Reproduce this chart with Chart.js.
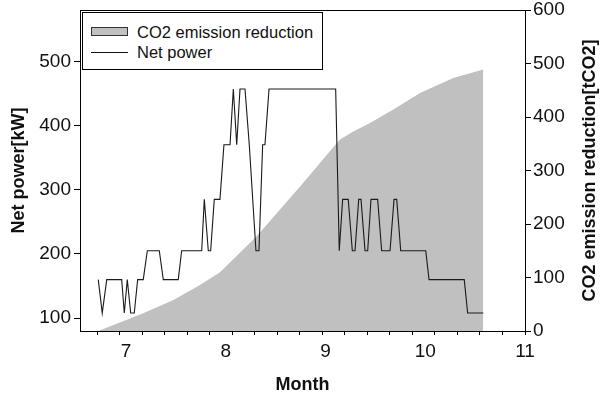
<!DOCTYPE html>
<html>
<head>
<meta charset="utf-8">
<script src="https://cdn.jsdelivr.net/npm/chart.js@4/dist/chart.umd.min.js"></script>
<style>
  body { margin: 0; background: #fff; }
  #wrap { position: relative; width: 608px; height: 396px; }
  #legend {
    position: absolute; left: 82px; top: 12px; width: 239px; height: 56px;
    border: 1px solid #000; background: #fff;
    font-family: 'Liberation Sans', Arial, sans-serif; font-size: 16.5px; color: #111;
  }
  .row { position: absolute; left: 0; height: 20px; line-height: 20px; }
  .row span { position: absolute; left: 54px; white-space: nowrap; }
  .sw-area { position: absolute; left: 8px; top: 5px; width: 35px; height: 7px; background: #c0c0c0; border: 1px solid #333; }
  .sw-line { position: absolute; left: 8px; top: 10px; width: 37px; height: 0; border-top: 1px solid #111; }
</style>
</head>
<body>
<div id="wrap">
  <canvas id="chart" width="608" height="396"></canvas>
  <div id="legend">
    <div class="row" style="top:9px"><div class="sw-area"></div><span id="lgArea"></span></div>
    <div class="row" style="top:29px"><div class="sw-line"></div><span id="lgLine"></span></div>
  </div>
</div>
<script>
// axis ticks
const monthTicks = [7, 8, 9, 10, 11];
const powerTicks = [100, 200, 300, 400, 500];
const co2Ticks = [0, 100, 200, 300, 400, 500, 600];

// net power [kW] vs month
const powerMonths = [6.722, 6.762, 6.807, 6.957, 6.983, 7.013, 7.047, 7.083, 7.117, 7.173,
  7.214, 7.334, 7.374, 7.524, 7.558, 7.759, 7.785, 7.825, 7.849, 7.885,
  7.942, 7.982, 8.043, 8.076, 8.110, 8.143, 8.193, 8.236, 8.303, 8.333,
  8.370, 8.393, 8.434, 9.102, 9.138, 9.172, 9.228, 9.269, 9.296, 9.333,
  9.356, 9.396, 9.423, 9.456, 9.523, 9.563, 9.647, 9.687, 9.714, 9.754,
  10.005, 10.038, 10.391, 10.425, 10.582];
const powerKW = [160, 108, 160, 160, 108, 160, 108, 108, 160, 160,
  205, 205, 160, 160, 205, 205, 285, 205, 205, 285,
  285, 370, 370, 457, 370, 457, 457, 370, 205, 205,
  370, 370, 457, 457, 205, 285, 285, 205, 205, 285,
  285, 205, 205, 285, 285, 205, 205, 285, 285, 205,
  205, 160, 160, 108, 108];

// cumulative CO2 emission reduction [tCO2] vs month
const co2Months = [6.722, 7.173, 7.475, 7.742, 7.942, 8.076, 8.310, 8.544, 8.745, 8.945,
  9.112, 9.146, 9.279, 9.446, 9.680, 9.947, 10.281, 10.582];
const co2Tonnes = [0, 33, 58, 86, 110, 134, 177, 227, 270, 314,
  351, 358, 373, 389, 414, 445, 473, 489];

const seriesLabels = ['CO2 emission reduction', 'Net power'];
const rightTitle = 'CO2 emission reduction[tCO2]';
document.getElementById('lgArea').textContent = seriesLabels[0];
document.getElementById('lgLine').textContent = seriesLabels[1];

const FONT = "'Liberation Sans', Arial, sans-serif";
const weekStep = 7 / 31;

// box round the plot + right axis title read bottom to top
const frame = {
  id: 'frame',
  afterDatasetsDraw(chart) {
    const { ctx, chartArea: a } = chart;
    ctx.save();
    ctx.strokeStyle = '#000';
    ctx.lineWidth = 1;
    const l = Math.round(a.left) + 0.5, t = Math.round(a.top) + 0.5;
    const r = Math.round(a.right) + 0.5, b = Math.round(a.bottom) + 0.5;
    ctx.strokeRect(l, t, r - l, b - t);
    ctx.restore();
  },
  afterDraw(chart) {
    const { ctx, chartArea: a } = chart;
    ctx.save();
    ctx.translate(590, (a.top + a.bottom) / 2);
    ctx.rotate(-Math.PI / 2);
    ctx.font = "bold 18px " + FONT;
    ctx.fillStyle = '#111';
    ctx.textAlign = 'center';
    ctx.textBaseline = 'middle';
    ctx.fillText(rightTitle, 0, 0);
    ctx.restore();
  }
};

const noEdgePad = s => { s.paddingTop = 0; s.paddingBottom = 0; };

new Chart(document.getElementById('chart'), {
  type: 'line',
  data: {
    datasets: [
      {
        label: seriesLabels[1],
        data: powerMonths.map((m, i) => ({ x: m, y: powerKW[i] })),
        yAxisID: 'y',
        borderColor: '#1a1a1a',
        borderWidth: 1.1,
        pointRadius: 0,
        tension: 0,
        fill: false
      },
      {
        label: seriesLabels[0],
        data: co2Months.map((m, i) => ({ x: m, y: co2Tonnes[i] })),
        yAxisID: 'y2',
        borderWidth: 0,
        borderColor: 'rgba(0,0,0,0)',
        backgroundColor: '#c0c0c0',
        pointRadius: 0,
        tension: 0,
        fill: 'origin'
      }
    ]
  },
  options: {
    responsive: false,
    animation: false,
    devicePixelRatio: 1,
    layout: { padding: { top: 10, left: 0, right: 0, bottom: 0 } },
    plugins: { legend: { display: false }, tooltip: { enabled: false } },
    scales: {
      x: {
        type: 'linear', min: 6.539, max: 11,
        afterFit: s => { s.height = 65; },
        afterBuildTicks: s => {
          const list = [];
          for (let k = 0; k < 20; k++) list.push({ value: 11 - k * weekStep, mark: true });
          monthTicks.forEach(v => { if (v !== 11) list.push({ value: v, mark: false }); });
          list.sort((a, b) => a.value - b.value);
          s.ticks = list;
        },
        ticks: {
          autoSkip: false, maxRotation: 0, padding: 5,
          color: '#111', font: { family: FONT, size: 19 },
          callback: v => monthTicks.includes(v) ? String(v) : ''
        },
        grid: {
          drawOnChartArea: false, tickLength: 4,
          tickColor: c => (c.tick && c.tick.mark) ? '#000' : 'rgba(0,0,0,0)'
        },
        border: { display: false },
        title: {
          display: true, text: 'Month', color: '#111',
          font: { family: FONT, size: 18, weight: 'bold' },
          padding: { top: 0, bottom: 0 }
        }
      },
      y: {
        position: 'left', min: 80, max: 580,
        afterFit: s => { s.width = 80; noEdgePad(s); },
        afterBuildTicks: s => { s.ticks = powerTicks.map(v => ({ value: v })); },
        ticks: { padding: 3, color: '#111', font: { family: FONT, size: 19 } },
        grid: { drawOnChartArea: false, tickLength: 6, tickColor: '#000' },
        border: { display: false },
        title: {
          display: true, text: 'Net power[kW]', color: '#111',
          font: { family: FONT, size: 18, weight: 'bold' },
          padding: { top: 8, bottom: 0 }
        }
      },
      y2: {
        position: 'right', min: 0, max: 600,
        afterFit: s => { s.width = 83; noEdgePad(s); },
        afterBuildTicks: s => { s.ticks = co2Ticks.map(v => ({ value: v })); },
        ticks: { padding: 2, color: '#111', font: { family: FONT, size: 19 } },
        grid: { drawOnChartArea: false, tickLength: 6, tickColor: '#000' },
        border: { display: false },
        title: { display: false }
      }
    }
  },
  plugins: [frame]
});
</script>
</body>
</html>
